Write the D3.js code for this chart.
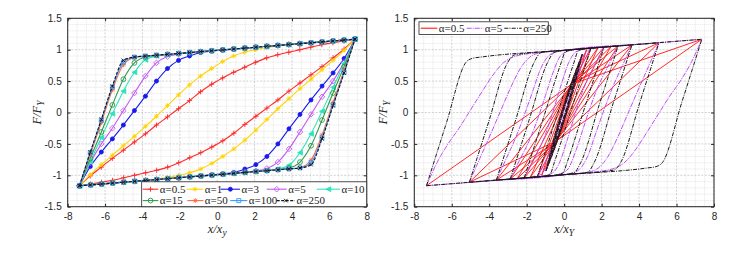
<!DOCTYPE html>
<html><head><meta charset="utf-8">
<script src="https://cdn.jsdelivr.net/npm/d3@7"></script>
<style>body{margin:0;background:#fff}</style>
</head><body>
<svg id="c" width="742" height="254"></svg>
<script>
// ---------------- DATA ----------------
const xTicks = [-8,-6,-4,-2,0,2,4,6,8];
const yTicks = [-1.5,-1,-0.5,0,0.5,1,1.5];

// left panel: upper branch sampled at these x (descending); lower branch is point-symmetric
const xGrid = [7.37,6.78,6.19,5.60,5.01,4.42,3.83,3.24,2.65,2.06,1.47,0.88,0.29,-0.30,-0.89,-1.48,-2.07,-2.66,-3.25,-3.84,-4.43,-5.02,-5.61,-6.20,-6.79,-7.37];
const leftLabels = ["α=0.5","α=1","α=3","α=5","α=10","α=15","α=50","α=100","α=250"];
const upA05  = [1.167,1.14,1.11,1.08,1.04,1.00,0.96,0.92,0.87,0.80,0.72,0.64,0.55,0.45,0.33,0.19,0.06,-0.07,-0.20,-0.34,-0.47,-0.60,-0.73,-0.87,-1.01,-1.167];
const upA1   = [1.167,1.152,1.137,1.122,1.107,1.092,1.076,1.058,1.035,1.00,0.96,0.90,0.81,0.70,0.58,0.44,0.28,0.11,-0.06,-0.22,-0.38,-0.53,-0.68,-0.83,-0.99,-1.167];
const upA3   = [1.167,1.153,1.139,1.124,1.110,1.096,1.082,1.068,1.054,1.039,1.025,1.008,0.995,0.978,0.955,0.90,0.83,0.70,0.50,0.26,0.03,-0.20,-0.42,-0.63,-0.86,-1.167];
const upA5   = [1.167,1.153,1.139,1.124,1.110,1.096,1.082,1.068,1.054,1.039,1.025,1.011,0.997,0.983,0.968,0.950,0.930,0.89,0.79,0.58,0.31,0.03,-0.25,-0.50,-0.80,-1.167];
const upA10  = [1.167,1.153,1.139,1.124,1.110,1.096,1.082,1.068,1.054,1.039,1.025,1.011,0.997,0.983,0.969,0.954,0.940,0.922,0.900,0.84,0.64,0.34,-0.02,-0.40,-0.78,-1.167];
const upA15  = [1.167,1.153,1.139,1.124,1.110,1.096,1.082,1.068,1.054,1.039,1.025,1.011,0.997,0.983,0.969,0.954,0.940,0.926,0.908,0.885,0.79,0.53,0.12,-0.31,-0.73,-1.167];
const upA50  = [1.167,1.153,1.139,1.124,1.110,1.096,1.082,1.068,1.054,1.039,1.025,1.011,0.997,0.983,0.969,0.954,0.940,0.926,0.912,0.898,0.875,0.76,0.36,-0.16,-0.67,-1.167];
const upA100 = [1.167,1.153,1.139,1.124,1.110,1.096,1.082,1.068,1.054,1.039,1.025,1.011,0.997,0.983,0.969,0.954,0.940,0.926,0.912,0.898,0.882,0.80,0.40,-0.12,-0.64,-1.167];
const upA250 = [1.167,1.153,1.139,1.124,1.110,1.096,1.082,1.068,1.054,1.039,1.025,1.011,0.997,0.983,0.969,0.954,0.940,0.926,0.912,0.898,0.884,0.83,0.42,-0.11,-0.63,-1.167];

// right panel: upper branches (x descending) of loops of decreasing amplitude
const rightLabels = ["α=0.5","α=5","α=250"];
const rBlack = [
  [[7.35,1.166],[0,0.99],[-4.4,0.884],[-4.9,0.862],[-5.24,0.80],[-6.3,-0.18],[-7.35,-1.166]],
  [[5.06,1.11],[0,0.99],[-2.2,0.937],[-2.67,0.915],[-3.01,0.80],[-4.03,-0.15],[-5.06,-1.11]],
  [[3.62,1.077],[0,0.99],[-0.8,0.971],[-1.26,0.95],[-1.60,0.80],[-2.61,-0.14],[-3.62,-1.077]],
  [[2.88,1.06],[0.6,1.004],[-0.1,0.985],[-0.54,0.955],[-0.88,0.80],[-1.88,-0.13],[-2.88,-1.06]],
  [[2.13,1.04],[1.0,1.013],[0.4,0.995],[0.05,0.96],[-0.15,0.80],[-1.14,-0.12],[-2.13,-1.04]],
  [[1.43,1.024],[1.0,1.01],[0.73,0.97],[0.53,0.80],[-0.45,-0.11],[-1.43,-1.024]],
  [[0.97,0.93],[0.5,0.57],[0,0.13],[-0.5,-0.36],[-0.97,-0.93]],
  [[0.90,0.86],[0,0.12],[-0.90,-0.86]],
  [[0.80,0.77],[0,0.10],[-0.80,-0.77]],
  [[0.68,0.66],[0,0.08],[-0.68,-0.66]],
  [[0.55,0.54],[0,0.06],[-0.55,-0.54]]
];
const rPurple = [
  [[7.35,1.166],[0,0.99],[-1.48,0.95],[-2.07,0.93],[-2.66,0.89],[-3.25,0.79],[-3.84,0.58],[-4.43,0.31],[-5.02,0.03],[-5.61,-0.25],[-6.20,-0.50],[-6.79,-0.80],[-7.35,-1.166]],
  [[5.06,1.11],[0,0.99],[-1.2,0.955],[-1.75,0.90],[-2.3,0.72],[-2.85,0.40],[-3.4,0.02],[-3.95,-0.36],[-4.5,-0.73],[-5.06,-1.11]],
  [[3.62,1.077],[0,0.99],[-0.35,0.97],[-0.8,0.91],[-1.25,0.70],[-1.7,0.32],[-2.15,-0.06],[-2.6,-0.41],[-3.1,-0.74],[-3.62,-1.077]],
  [[2.88,1.06],[0.5,1.0],[0.2,0.975],[-0.2,0.90],[-0.6,0.63],[-1.0,0.27],[-1.4,-0.09],[-1.85,-0.44],[-2.35,-0.74],[-2.88,-1.06]],
  [[2.13,1.04],[1.0,1.005],[0.6,0.96],[0.25,0.80],[-0.15,0.45],[-0.55,0.06],[-0.95,-0.31],[-1.5,-0.68],[-2.13,-1.04]],
  [[1.43,1.024],[0.9,0.84],[0.4,0.42],[0,0.04],[-0.5,-0.42],[-0.95,-0.75],[-1.43,-1.024]],
  [[0.97,0.93],[0.5,0.52],[0,0.07],[-0.5,-0.40],[-0.97,-0.93]]
];
// alpha = 0.5: coarse trajectory (peaks and mid-stroke samples), drawn with straight segments
const rRedPath = [
  [-7.35,-1.166],[0.40,0.45],[7.35,1.166],[-0.40,-0.45],
  [-5.06,-1.11],[0.44,0.47],[5.06,1.11],[-0.44,-0.47],
  [-3.62,-1.077],[0.38,0.43],[3.62,1.077],[-0.38,-0.43],
  [-2.88,-1.06],[0.42,0.46],[2.88,1.06],[-0.42,-0.46],
  [-2.50,-1.05],[0.36,0.42],[2.50,1.05],[-0.36,-0.42],
  [-2.13,-1.04],[0.40,0.44],[2.13,1.04],[-0.40,-0.44],
  [-1.80,-1.03],[0.34,0.40],[1.80,1.03],[-0.34,-0.40],
  [-1.43,-1.024],[0.38,0.45],[1.43,1.024],[-0.38,-0.45],
  [-1.20,-1.00],[0.30,0.40],[1.20,1.00],[-0.30,-0.40],
  [-0.97,-0.93],[0.32,0.42],[0.97,0.93]
];

// ---------------- DRAWING ----------------
const svg = d3.select("#c");
const tickFont = "'Liberation Sans', Arial, sans-serif";
const serif = "'Liberation Serif', 'Times New Roman', serif";
const axisColor = "#262626";

function makePanel(box, xSub, id) {
  const xs = d3.scaleLinear().domain([-8,8]).range([box.left, box.right]);
  const ys = d3.scaleLinear().domain([-1.5,1.5]).range([box.bottom, box.top]);
  const g = svg.append("g");
  g.append("rect").attr("x",box.left).attr("y",box.top).attr("width",box.right-box.left).attr("height",box.bottom-box.top).attr("fill","#fff");
  const xMinor = d3.range(-16,17).map(i=>i*0.5).filter(v=>Math.abs(v%2)>1e-9);
  const yMinor = d3.range(-15,16).map(i=>i*0.1).filter(v=>Math.abs(Math.round(v*10)%5)!==0);
  g.selectAll(".xm").data(xMinor).enter().append("line")
    .attr("x1",d=>xs(d)).attr("x2",d=>xs(d)).attr("y1",box.top).attr("y2",box.bottom)
    .attr("stroke","#d4d4d4").attr("stroke-width",0.6).attr("stroke-dasharray","1,1");
  g.selectAll(".ym").data(yMinor).enter().append("line")
    .attr("y1",d=>ys(d)).attr("y2",d=>ys(d)).attr("x1",box.left).attr("x2",box.right)
    .attr("stroke","#d4d4d4").attr("stroke-width",0.6).attr("stroke-dasharray","1,1");
  g.selectAll(".xg").data(xTicks).enter().append("line")
    .attr("x1",d=>xs(d)).attr("x2",d=>xs(d)).attr("y1",box.top).attr("y2",box.bottom)
    .attr("stroke","#bdbdbd").attr("stroke-width",0.7).attr("stroke-dasharray","2,1.5");
  g.selectAll(".yg").data(yTicks).enter().append("line")
    .attr("y1",d=>ys(d)).attr("y2",d=>ys(d)).attr("x1",box.left).attr("x2",box.right)
    .attr("stroke","#bdbdbd").attr("stroke-width",0.7).attr("stroke-dasharray","2,1.5");
  svg.append("clipPath").attr("id",id).append("rect")
    .attr("x",box.left).attr("y",box.top).attr("width",box.right-box.left).attr("height",box.bottom-box.top);
  const plot = svg.append("g").attr("clip-path",`url(#${id})`);
  const front = svg.append("g");
  const ax = (gen, tr) => front.append("g").attr("transform",tr).call(gen)
      .call(s=>s.select(".domain").remove())
      .call(s=>s.selectAll("line").attr("stroke",axisColor))
      .call(s=>s.selectAll("text").attr("fill",axisColor).attr("font-family",tickFont).attr("font-size",10));
  ax(d3.axisBottom(xs).tickValues(xTicks).tickSizeInner(-3).tickSizeOuter(0).tickPadding(6).tickFormat(d=>String(d)), `translate(0,${box.bottom})`);
  ax(d3.axisTop(xs).tickValues(xTicks).tickSizeInner(-3).tickSizeOuter(0).tickFormat(""), `translate(0,${box.top})`);
  ax(d3.axisLeft(ys).tickValues(yTicks).tickSizeInner(-3).tickSizeOuter(0).tickPadding(6).tickFormat(d=>String(d)), `translate(${box.left},0)`);
  ax(d3.axisRight(ys).tickValues(yTicks).tickSizeInner(-3).tickSizeOuter(0).tickFormat(""), `translate(${box.right},0)`);
  front.append("rect").attr("x",box.left).attr("y",box.top).attr("width",box.right-box.left).attr("height",box.bottom-box.top)
    .attr("fill","none").attr("stroke",axisColor).attr("stroke-width",1);
  const cx = (box.left+box.right)/2;
  const xl = front.append("text").attr("x",cx).attr("y",233).attr("text-anchor","middle")
    .attr("font-family",serif).attr("font-style","italic").attr("font-size",12.5).attr("fill",axisColor);
  xl.append("tspan").text("x/x");
  xl.append("tspan").attr("font-size",9.5).attr("dy",3).text(xSub);
  const ly = (box.top+box.bottom)/2;
  const yl = front.append("text").attr("transform",`translate(${box.left-27},${ly}) rotate(-90)`).attr("text-anchor","middle")
    .attr("font-family",serif).attr("font-style","italic").attr("font-size",12.5).attr("fill",axisColor);
  yl.append("tspan").text("F/F");
  yl.append("tspan").attr("font-size",9.5).attr("dy",3).text("Y");
  return {xs, ys, plot, front};
}

function markerPath(type, x, y, s) {
  switch(type) {
    case "plus": return `M${x-s},${y}H${x+s}M${x},${y-s}V${y+s}`;
    case "x": return `M${x-s},${y-s}L${x+s},${y+s}M${x-s},${y+s}L${x+s},${y-s}`;
    case "star": { const d=s*0.72; return `M${x-s},${y}H${x+s}M${x},${y-s}V${y+s}M${x-d},${y-d}L${x+d},${y+d}M${x-d},${y+d}L${x+d},${y-d}`; }
    case "diamond": return `M${x},${y-s}L${x+s},${y}L${x},${y+s}L${x-s},${y}Z`;
    case "square": return `M${x-s},${y-s}H${x+s}V${y+s}H${x-s}Z`;
    case "tri": return `M${x-s},${y}L${x+s},${y-s}L${x+s},${y+s}Z`;
    case "circle": return `M${x-s},${y}A${s},${s} 0 1,0 ${x+s},${y}A${s},${s} 0 1,0 ${x-s},${y}Z`;
  }
}

// ---------- left panel ----------
const Lbox = {left:67.7, right:366.7, top:18.3, bottom:206.7};
const P1 = makePanel(Lbox, "y", "clipL");
const leftSeries = [
  {lab:leftLabels[0], F:upA05,  color:"#ff2a2a", mk:"plus",   ms:2.6, fill:"none", dash:null},
  {lab:leftLabels[1], F:upA1,   color:"#ffd400", mk:"star",   ms:2.4, fill:"none", dash:null},
  {lab:leftLabels[2], F:upA3,   color:"#1a1aee", mk:"circle", ms:2.0, fill:"#1a1aee", dash:null},
  {lab:leftLabels[3], F:upA5,   color:"#c35af5", mk:"diamond",ms:2.8, fill:"none", dash:null},
  {lab:leftLabels[4], F:upA10,  color:"#2ee3bb", mk:"tri",    ms:2.4, fill:"#2ee3bb", dash:null},
  {lab:leftLabels[5], F:upA15,  color:"#2e9a4a", mk:"circle", ms:2.4, fill:"none", dash:null},
  {lab:leftLabels[6], F:upA50,  color:"#ff6a3d", mk:"star",   ms:2.4, fill:"none", dash:null},
  {lab:leftLabels[7], F:upA100, color:"#3399ff", mk:"square", ms:2.0, fill:"none", dash:null},
  {lab:leftLabels[8], F:upA250, color:"#141414", mk:"x",      ms:1.8, fill:"none", dash:"3,1.5"}
];
const lineL = d3.line().x(d=>P1.xs(d[0])).y(d=>P1.ys(d[1])).curve(d3.curveMonotoneX);
leftSeries.forEach(s=>{
  const up = xGrid.map((x,i)=>[x,s.F[i]]);
  const lo = up.map(([x,f])=>[-x,-f]);
  [up,lo].forEach(br=>{
    const pts = br.slice().sort((a,b)=>a[0]-b[0]);
    P1.plot.append("path").attr("d",lineL(pts)).attr("fill","none").attr("stroke",s.color)
      .attr("stroke-width",1.1).attr("stroke-dasharray",s.dash);
    P1.plot.selectAll(null).data(pts).enter().append("path")
      .attr("d",d=>markerPath(s.mk,P1.xs(d[0]),P1.ys(d[1]),s.ms))
      .attr("fill",s.fill).attr("stroke",s.color).attr("stroke-width",0.9);
  });
});
const LL = P1.front.append("g");
LL.append("rect").attr("x",141.7).attr("y",181.8).attr("width",Lbox.right-141.7).attr("height",Lbox.bottom-181.8)
  .attr("fill","#fff").attr("stroke",axisColor).attr("stroke-width",0.8);
const legPos = [[142.7,158.3,189.2],[186.7,203.3,189.2],[220.7,240,189.2],[266.7,286.7,189.2],[316.7,340,189.2],
                [142.7,158.3,200.6],[187.3,203.3,200.6],[230.3,247.3,200.6],[276.7,295,200.6]];
leftSeries.forEach((s,i)=>{
  const [a,b,y] = legPos[i];
  LL.append("line").attr("x1",a).attr("x2",b).attr("y1",y).attr("y2",y).attr("stroke",s.color).attr("stroke-width",1.1).attr("stroke-dasharray",s.dash);
  LL.append("path").attr("d",markerPath(s.mk,(a+b)/2,y,s.ms)).attr("fill",s.fill).attr("stroke",s.color).attr("stroke-width",0.9);
  LL.append("text").attr("x",b+1.5).attr("y",y+3.6).attr("font-family",serif).attr("font-size",11).attr("fill","#222").text(s.lab);
});

// ---------- right panel ----------
const Rbox = {left:414.3, right:714.0, top:18.3, bottom:206.7};
const P2 = makePanel(Rbox, "Y", "clipR");
const lineR = d3.line().x(d=>P2.xs(d[0])).y(d=>P2.ys(d[1])).curve(d3.curveMonotoneX);
const lineS = d3.line().x(d=>P2.xs(d[0])).y(d=>P2.ys(d[1]));
function drawLoops(loops, color, dash, w) {
  loops.forEach(up=>{
    const lo = up.map(([x,f])=>[-x,-f]);
    [up,lo].forEach(br=>{
      const pts = br.slice().sort((a,b)=>a[0]-b[0]);
      P2.plot.append("path").attr("d",lineR(pts)).attr("fill","none").attr("stroke",color)
        .attr("stroke-width",w).attr("stroke-dasharray",dash);
    });
  });
}
// plot order: alpha=0.5 first, then 5, then 250 on top
P2.plot.append("path").attr("d",lineS(rRedPath)).attr("fill","none").attr("stroke","#ff1414")
  .attr("stroke-width",0.9).attr("stroke-linejoin","round");
drawLoops(rPurple, "#c14cf6", "5,1,1,1", 1.0);
drawLoops(rBlack, "#1a1a1a", "4,1.2,1,1.2", 1.0);
const RL = P2.front.append("g");
RL.append("rect").attr("x",419).attr("y",21.8).attr("width",129.3).attr("height",12.6)
  .attr("fill","#fff").attr("stroke",axisColor).attr("stroke-width",0.8);
const rLeg = [[420.7,437.3,"#ff1414",null],[466.7,483.3,"#c14cf6","5,1,1,1"],[504.3,521.7,"#1a1a1a","4,1.2,1,1.2"]];
rLeg.forEach((d,i)=>{
  RL.append("line").attr("x1",d[0]).attr("x2",d[1]).attr("y1",28.2).attr("y2",28.2).attr("stroke",d[2]).attr("stroke-width",1.1).attr("stroke-dasharray",d[3]);
  RL.append("text").attr("x",d[1]+1.5).attr("y",31.8).attr("font-family",serif).attr("font-size",11).attr("fill","#222").text(rightLabels[i]);
});
</script>
</body></html>
